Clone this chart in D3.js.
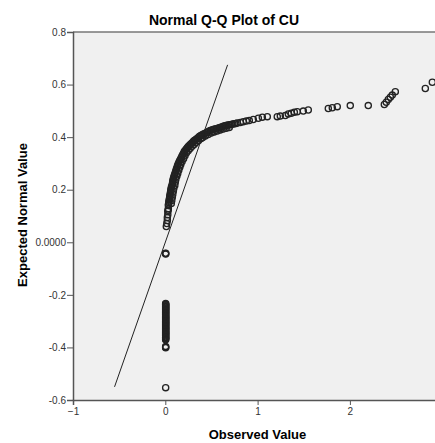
<!DOCTYPE html>
<html>
<head>
<meta charset="utf-8">
<script src="https://cdn.jsdelivr.net/npm/d3@7/dist/d3.min.js"></script>
<style>
  html, body { margin: 0; padding: 0; background: #fff; }
  svg { display: block; font-family: "Liberation Sans", Arial, sans-serif; }
</style>
</head>
<body>
<svg id="chart" width="435" height="443"></svg>
<script>
// ---- Data ----
const title = "Normal Q-Q Plot of CU";
const xLabel = "Observed Value";
const yLabel = "Expected Normal Value";

const xTicks = [-1, 0, 1, 2];
const yTicks = [0.8, 0.6, 0.4, 0.2, 0, -0.2, -0.4, -0.6];
const yTickLabels = ["0.8", "0.6", "0.4", "0.2", "0.0000", "-0.2", "-0.4", "-0.6"];

// Observed values (x) of each point
const observed = [
  // column at zero
  0.004, 0.004, 0.004, 0.004,
  0.004, 0.004, 0.004, 0.004, 0.004, 0.004, 0.004, 0.004, 0.004, 0.004, 0.004, 0.004,
  0.004, 0.004, 0.004, 0.004, 0.004, 0.004, 0.004, 0.004, 0.004, 0.004, 0.004, 0.004,
  0.004, 0.004, 0.004,
  0.004, 0.004, 0.004, 0.004, 0.004, 0.004, 0.004, 0.004, 0.004, 0.004, 0.004, 0.004,
  0.004, 0.004, 0.004, 0.004, 0.004, 0.004, 0.004, 0.004, 0.004, 0.004, 0.004,
  // curve
  0.011, 0.016, 0.022, 0.022, 0.027, 0.027, 0.033, 0.033, 0.038, 0.043,
  0.049, 0.054, 0.060, 0.065, 0.076, 0.081, 0.087, 0.098, 0.108, 0.119,
  0.130, 0.141, 0.157, 0.173, 0.190, 0.206, 0.228, 0.249, 0.271, 0.293,
  0.314, 0.341, 0.368, 0.395, 0.423, 0.455, 0.488, 0.520, 0.553, 0.585,
  0.618, 0.650, 0.683, 0.715, 0.748, 0.780, 0.813, 0.845, 0.878, 0.910,
  0.030, 0.035, 0.040, 0.046, 0.051, 0.057, 0.062, 0.070, 0.078, 0.084,
  0.092, 0.103, 0.114, 0.124, 0.135, 0.149, 0.165, 0.181, 0.198, 0.217,
  0.238, 0.260, 0.282, 0.303, 0.327, 0.355, 0.381, 0.409, 0.439, 0.471,
  0.504, 0.536, 0.569, 0.601, 0.634, 0.666, 0.699, 0.731, 0.764,
  // outer edge of the dense band
  0.065, 0.070, 0.076, 0.081, 0.087, 0.092, 0.103, 0.108, 0.114, 0.125,
  0.135, 0.146, 0.157, 0.168, 0.182, 0.198, 0.213, 0.228,
  0.248, 0.269, 0.291, 0.313, 0.334, 0.361, 0.388,
  0.405, 0.433, 0.465, 0.498, 0.530, 0.563, 0.595, 0.628, 0.660, 0.693,
  // upper tail
  0.953, 1.008, 1.051, 1.105, 1.213, 1.246, 1.300, 1.333, 1.365, 1.398,
  1.430, 1.495, 1.549, 1.766, 1.809, 1.863, 2.004, 2.199, 2.373, 2.394,
  2.416, 2.438, 2.459, 2.492, 2.817, 2.893
];

// Expected normal values (y) of each point
const expected = [
  -0.553, -0.396, -0.399, -0.401,
  -0.371, -0.365, -0.360, -0.353, -0.347, -0.341, -0.335, -0.329, -0.323, -0.317, -0.311, -0.305,
  -0.299, -0.293, -0.287, -0.281, -0.275, -0.268, -0.262, -0.256, -0.250, -0.244, -0.238, -0.233,
  -0.042, -0.045, -0.043,
  -0.368, -0.362, -0.356, -0.350, -0.344, -0.338, -0.332, -0.326, -0.320, -0.314, -0.308, -0.302,
  -0.296, -0.290, -0.284, -0.278, -0.272, -0.265, -0.259, -0.253, -0.247, -0.241, -0.236,
  0.060, 0.071, 0.083, 0.094, 0.105, 0.117, 0.128, 0.140, 0.151, 0.162,
  0.174, 0.185, 0.197, 0.208, 0.219, 0.231, 0.242, 0.254, 0.265, 0.277,
  0.288, 0.299, 0.311, 0.322, 0.334, 0.345, 0.355, 0.364, 0.372, 0.379,
  0.387, 0.394, 0.402, 0.408, 0.413, 0.419, 0.425, 0.429, 0.432, 0.436,
  0.440, 0.443, 0.446, 0.448, 0.451, 0.454, 0.456, 0.459, 0.461, 0.463,
  0.122, 0.145, 0.156, 0.168, 0.179, 0.191, 0.202, 0.213, 0.225, 0.236,
  0.248, 0.259, 0.271, 0.282, 0.293, 0.305, 0.316, 0.328, 0.339, 0.350,
  0.360, 0.368, 0.376, 0.383, 0.390, 0.398, 0.405, 0.411, 0.416, 0.422,
  0.427, 0.431, 0.434, 0.438, 0.442, 0.445, 0.447, 0.450, 0.452,
  0.148, 0.159, 0.171, 0.182, 0.194, 0.205, 0.216, 0.228, 0.239, 0.251,
  0.262, 0.274, 0.285, 0.296, 0.307, 0.318, 0.329, 0.340,
  0.348, 0.357, 0.365, 0.372, 0.380, 0.387, 0.395,
  0.399, 0.404, 0.410, 0.416, 0.420, 0.423, 0.427, 0.431, 0.434, 0.437,
  0.467, 0.472, 0.476, 0.478, 0.478, 0.480, 0.482, 0.488, 0.491, 0.495,
  0.497, 0.499, 0.503, 0.509, 0.512, 0.516, 0.520, 0.520, 0.524, 0.533,
  0.543, 0.552, 0.560, 0.573, 0.585, 0.609
];

// Reference line (expected = observed) endpoints on x
const refLineX = [-0.55, 0.675];

// ---- Drawing ----
const svg = d3.select("#chart");
const plotLeft = 73, plotTop = 32, plotBottom = 400, plotRight = 443;

const x = d3.scaleLinear().domain([-1, 3]).range([plotLeft, 442.2]);
const y = d3.scaleLinear().domain([-0.6, 0.8]).range([plotBottom, plotTop]);

// plot background
svg.append("rect")
  .attr("x", plotLeft).attr("y", plotTop)
  .attr("width", plotRight - plotLeft).attr("height", plotBottom - plotTop)
  .attr("fill", "#f0f0f0");

// top frame line
svg.append("line")
  .attr("x1", plotLeft).attr("x2", 435)
  .attr("y1", plotTop).attr("y2", plotTop)
  .attr("stroke", "#777").attr("stroke-width", 1.5);

// Y axis
const yAxis = d3.axisLeft(y).tickValues(yTicks).tickSize(6).tickPadding(1)
  .tickFormat((d, i) => yTickLabels[i]);
const gy = svg.append("g").attr("transform", `translate(${plotLeft},0)`).call(yAxis);
gy.select(".domain").attr("stroke", "#555").attr("stroke-width", 1.5);
gy.selectAll(".tick line").attr("stroke", "#555");
gy.selectAll(".tick text").attr("font-size", 10).attr("fill", "#333")
  .attr("font-family", "Liberation Sans, Arial, sans-serif");

// X axis
const xAxis = d3.axisBottom(x).tickValues(xTicks).tickSize(5).tickPadding(3)
  .tickFormat(d3.format("d"));
const gx = svg.append("g").attr("transform", `translate(0,${plotBottom})`).call(xAxis);
gx.select(".domain").attr("stroke", "#555").attr("stroke-width", 1.5);
gx.selectAll(".tick line").attr("stroke", "#555");
gx.selectAll(".tick text").attr("font-size", 10).attr("fill", "#333")
  .attr("font-family", "Liberation Sans, Arial, sans-serif");

// reference line
svg.append("line")
  .attr("x1", x(refLineX[0])).attr("y1", y(refLineX[0]))
  .attr("x2", x(refLineX[1])).attr("y2", y(refLineX[1]))
  .attr("stroke", "#222").attr("stroke-width", 1);

// points
const pts = observed.map((o, i) => ({ o, e: expected[i] }));
svg.append("g").selectAll("circle").data(pts).join("circle")
  .attr("cx", d => x(d.o)).attr("cy", d => y(d.e))
  .attr("r", 3.1)
  .attr("fill", "none")
  .attr("stroke", "#222")
  .attr("stroke-width", 1.3);

// title
svg.append("text")
  .attr("x", 224).attr("y", 25)
  .attr("text-anchor", "middle")
  .attr("font-size", 14).attr("font-weight", "bold").attr("fill", "#000")
  .text(title);

// axis labels
svg.append("text")
  .attr("x", 257.5).attr("y", 439)
  .attr("text-anchor", "middle")
  .attr("font-size", 13).attr("font-weight", "bold").attr("fill", "#000")
  .text(xLabel);

svg.append("text")
  .attr("transform", "translate(27,215) rotate(-90)")
  .attr("text-anchor", "middle")
  .attr("font-size", 13).attr("font-weight", "bold").attr("fill", "#000")
  .text(yLabel);
</script>
</body>
</html>
